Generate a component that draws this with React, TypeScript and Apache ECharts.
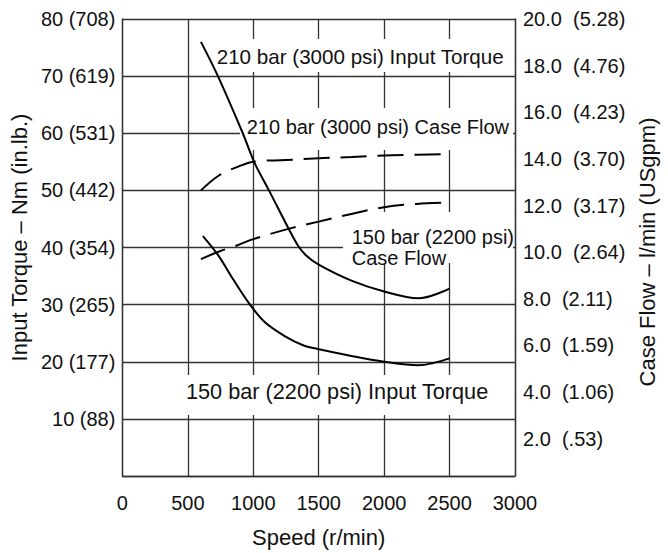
import React, { useEffect, useRef } from 'react';
import * as echarts from 'echarts';

// Axis ticks
const speedTicks = [0, 500, 1000, 1500, 2000, 2500, 3000];
const torqueTicks = [10, 20, 30, 40, 50, 60, 70, 80];
const torqueInLb = ['88', '177', '265', '354', '442', '531', '619', '708'];
const flowTicks = [2, 4, 6, 8, 10, 12, 14, 16, 18, 20];
const flowGpm = ['.53', '1.06', '1.59', '2.11', '2.64', '3.17', '3.70', '4.23', '4.76', '5.28'];

// 210 bar (3000 psi) Input Torque (Nm)
const speed210Torque = [600, 730, 920, 1010, 1120, 1270, 1340, 1400, 1500, 1750, 2000, 2260, 2500];
const torque210 = [76, 70, 60, 54.8, 50, 43.3, 40.4, 38.7, 37, 34.2, 32.3, 31.1, 32.8];

// 150 bar (2200 psi) Input Torque (Nm)
const speed150Torque = [615, 730, 850, 975, 1085, 1240, 1390, 1500, 1750, 2000, 2260, 2500];
const torque150 = [42, 38.7, 34.3, 30, 27, 24.5, 22.8, 22.2, 21.0, 20.0, 19.4, 20.6];

// 210 bar (3000 psi) Case Flow (l/min)
const speed210Flow = [600, 740, 885, 1000, 1250, 1500, 1750, 2000, 2250, 2500];
const flow210 = [12.65, 13.3, 13.67, 13.88, 13.95, 14.03, 14.08, 14.15, 14.18, 14.21];

// 150 bar (2200 psi) Case Flow (l/min)
const speed150Flow = [600, 740, 885, 1000, 1290, 1500, 1750, 2000, 2250, 2500];
const flow150 = [9.7, 10.03, 10.31, 10.56, 11.03, 11.31, 11.64, 11.93, 12.07, 12.13];

const FONT = '"Liberation Sans", Arial, Helvetica, sans-serif';
const INK = '#111';
const GRID = '#333';

const pairs = (xs: number[], ys: number[]) => xs.map((x, i) => [x, ys[i]]);

export default function App() {
  const ref = useRef<HTMLDivElement>(null);

  useEffect(() => {
    document.body.style.margin = '0';
    if (!ref.current) return;
    const chart = echarts.init(ref.current, undefined, { renderer: 'svg' });

    const textStyle = { fontFamily: FONT, fontSize: 20, color: INK };
    const titleStyle = { fontFamily: FONT, fontSize: 22, color: INK };

    const curve = (name: string, axis: number, xs: number[], ys: number[], dashed: boolean) => ({
      name,
      type: 'line',
      yAxisIndex: axis,
      data: pairs(xs, ys),
      smooth: 0.35,
      showSymbol: false,
      z: 5,
      lineStyle: { color: '#000', width: 2, type: dashed ? [26, 11] : 'solid' },
    });

    const label = (text: string, x: number, y: number, size: number, extra: any = {}) => ({
      type: 'text',
      z: 4,
      x,
      y,
      style: { text, fontFamily: FONT, fontSize: size, fill: INK, align: 'left', verticalAlign: 'middle', ...extra },
    });

    const option: any = {
      animation: false,
      backgroundColor: '#fff',
      grid: { left: 117, top: 19, width: 398, height: 457, containLabel: false },
      xAxis: {
        type: 'value',
        min: 0,
        max: 3000,
        interval: 500,
        name: 'Speed (r/min)',
        nameLocation: 'middle',
        nameGap: 50,
        nameTextStyle: titleStyle,
        axisLine: { show: true, lineStyle: { color: GRID, width: 1.3 } },
        axisTick: { show: false },
        axisLabel: {
          ...textStyle,
          margin: 17,
          formatter: (v: number) => (speedTicks.includes(v) ? String(v) : ''),
        },
        splitLine: { show: true, lineStyle: { color: GRID, width: 1.3 } },
      },
      yAxis: [
        {
          type: 'value',
          position: 'left',
          min: 0,
          max: 80,
          interval: 10,
          name: 'Input Torque – Nm (in.lb.)',
          nameLocation: 'middle',
          nameGap: 84,
          nameTextStyle: { ...titleStyle, padding: [0, 0, 0, 20] },
          axisLine: { show: true, lineStyle: { color: GRID, width: 1.3 } },
          axisTick: { show: false },
          axisLabel: {
            ...textStyle,
            margin: 7,
            padding: [10, 0, 0, 0],
            formatter: (v: number) => {
              const i = torqueTicks.indexOf(v);
              return i < 0 ? '' : `${v} (${torqueInLb[i]})`;
            },
          },
          splitLine: { show: true, lineStyle: { color: GRID, width: 1.3 } },
        },
        {
          type: 'value',
          position: 'right',
          min: 0.4,
          max: 20,
          name: 'Case Flow – l/min (USgpm)',
          nameLocation: 'middle',
          nameGap: 110,
          nameTextStyle: { ...titleStyle, padding: [0, 9, 0, 0] },
          axisLine: { show: true, lineStyle: { color: GRID, width: 1.3 } },
          axisTick: { show: false },
          axisLabel: {
            ...textStyle,
            margin: 8,
            padding: [8, 0, 0, 0],
            customValues: flowTicks,
            formatter: (v: number) => {
              const i = flowTicks.findIndex((t) => Math.abs(t - v) < 1e-6);
              return i < 0 ? '' : `${v.toFixed(1)}\u00a0 (${flowGpm[i]})`;
            },
          },
          splitLine: { show: false },
        },
      ],
      series: [
        curve('210 bar (3000 psi) Input Torque', 0, speed210Torque, torque210, false),
        curve('150 bar (2200 psi) Input Torque', 0, speed150Torque, torque150, false),
        curve('210 bar (3000 psi) Case Flow', 1, speed210Flow, flow210, true),
        curve('150 bar (2200 psi) Case Flow', 1, speed150Flow, flow150, true),
      ],
      graphic: [
        { type: 'rect', z: 3, shape: { x: 213, y: 39, width: 297, height: 33 }, style: { fill: '#fff' } },
        { type: 'rect', z: 3, shape: { x: 240, y: 108, width: 273, height: 42 }, style: { fill: '#fff' } },
        { type: 'rect', z: 3, shape: { x: 343, y: 212, width: 170, height: 51 }, style: { fill: '#fff' } },
        { type: 'rect', z: 3, shape: { x: 183, y: 375, width: 322, height: 40 }, style: { fill: '#fff' } },
        label('210 bar (3000 psi) Input Torque', 216.7, 56, 20.6),
        label('210 bar (3000 psi) Case Flow', 246.7, 127, 20),
        label('150 bar (2200 psi)\nCase Flow', 351.7, 247.3, 20, { lineHeight: 21 }),
        label('150 bar (2200 psi) Input Torque', 186, 391, 21.7),
      ],
    };

    chart.setOption(option);
    return () => chart.dispose();
  }, []);

  return <div ref={ref} style={{ width: 668, height: 553 }} />;
}
